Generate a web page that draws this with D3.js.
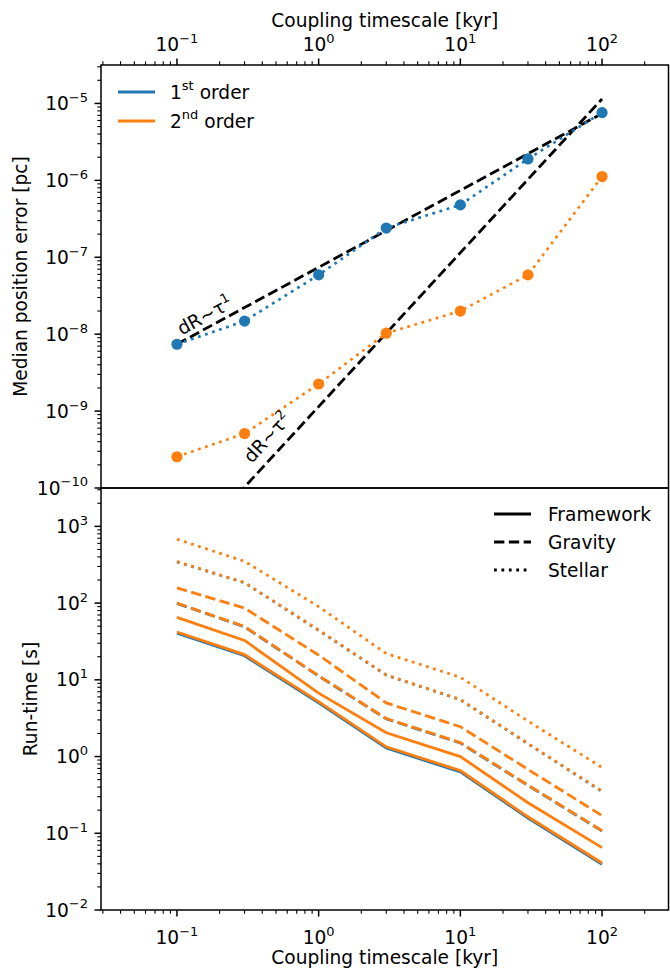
<!DOCTYPE html>
<html>
<head>
<meta charset="utf-8">
<script src="https://cdn.jsdelivr.net/npm/d3@7"></script>
<style>
  html, body { margin: 0; padding: 0; background: #fff; }
  svg { display: block; }
  text { font-family: "DejaVu Sans", sans-serif; fill: #000; }
</style>
</head>
<body>
<svg id="chart" width="670" height="969"></svg>
<script>
// ---------------- data ----------------
const timescales = [0.1, 0.3, 1, 3, 10, 30, 100];            // kyr

// Top panel: median position error [pc]
const errFirst  = [7.4e-9, 1.48e-8, 5.9e-8, 2.4e-7, 4.8e-7, 1.9e-6, 7.6e-6];
const errSecond = [2.55e-10, 5.1e-10, 2.25e-9, 1.03e-8, 2.0e-8, 5.9e-8, 1.12e-6];

// Reference slopes (anchor value at anchor timescale, exponent)
const refLines = [
  { exp: 1, anchorX: 0.1, anchorY: 7.4e-9, label: "dR∼τ", sup: "1", lx: 0.108, ly: 9.6e-9 },
  { exp: 2, anchorX: 3,   anchorY: 1.03e-8, label: "dR∼τ", sup: "2", lx: 0.337, ly: 2.05e-10 }
];

// Bottom panel: run-time [s]
const rtFirstFramework  = [40.5, 20.6, 5.0, 1.29, 0.63, 0.158, 0.0395];
const rtFirstGravity    = [99, 49, 11.2, 3.1, 1.5, 0.42, 0.107];
const rtFirstStellar    = [345, 184, 44, 11.5, 5.5, 1.47, 0.35];
const rtSecondFrameworkA = [42, 21.3, 5.2, 1.34, 0.655, 0.164, 0.041];
const rtSecondGravityA   = [100, 49.5, 11.3, 3.13, 1.52, 0.425, 0.108];
const rtSecondStellarA   = [348, 185, 44.5, 11.6, 5.55, 1.48, 0.355];
const rtSecondFramework  = [65, 32.6, 6.7, 2.04, 1.0, 0.25, 0.065];
const rtSecondGravity    = [158, 86, 21, 5.0, 2.45, 0.68, 0.17];
const rtSecondStellar    = [680, 350, 90, 22, 10.8, 2.9, 0.72];

const xTickExps   = [-1, 0, 1, 2];
const yTopExps    = [-10, -9, -8, -7, -6, -5];
const yBotExps    = [-2, -1, 0, 1, 2, 3];
const orderLabels = [["1", "st", " order"], ["2", "nd", " order"]];
const typeLabels  = ["Framework", "Gravity", "Stellar"];

// ---------------- styles ----------------
const BLUE = "#1f77b4", ORANGE = "#ff7f0e";
const LW = 2.8;
const FS = 18.6;
const DOT = `${LW * 1.0},${LW * 1.65}`;
const DASH = `${LW * 3.7},${LW * 1.6}`;
const styleDash = { Framework: null, Gravity: DASH, Stellar: DOT };

const svg = d3.select("#chart");
const L = 101, R = 668.5;
const topT = 65, mid = 488, botB = 910;

const x = d3.scaleLog().domain([Math.pow(10, -1.536), Math.pow(10, 2.469)]).range([L, R]);
const yTop = d3.scaleLog().domain([1e-10, Math.pow(10, -4.5)]).range([mid, topT]);
const yBot = d3.scaleLog().domain([1e-2, Math.pow(10, 3.5)]).range([botB, mid]);

function powLabel(sel, exp) {
  sel.append("tspan").text("10");
  sel.append("tspan").attr("font-size", "0.7em").attr("dy", "-0.62em")
     .text(exp < 0 ? "−" + Math.abs(exp) : String(exp));
}
function minorVals(scale) {
  const [a, b] = scale.domain();
  const out = [];
  for (let e = Math.floor(Math.log10(a)); e <= Math.ceil(Math.log10(b)); e++) {
    for (let m = 2; m <= 9; m++) {
      const v = m * Math.pow(10, e);
      if (v >= a && v <= b) out.push(v);
    }
  }
  return out;
}

// clip paths
const defs = svg.append("defs");
defs.append("clipPath").attr("id", "clipTop").append("rect")
  .attr("x", L).attr("y", topT).attr("width", R - L).attr("height", mid - topT);
defs.append("clipPath").attr("id", "clipBot").append("rect")
  .attr("x", L).attr("y", mid).attr("width", R - L).attr("height", botB - mid);

// ---------------- top panel ----------------
const gTop = svg.append("g").attr("clip-path", "url(#clipTop)");
const lineTop = d3.line().x((d, i) => x(timescales[i])).y(d => yTop(d));

refLines.forEach(r => {
  const pts = [0.1, 100].map(t => [t, r.anchorY * Math.pow(t / r.anchorX, r.exp)]);
  gTop.append("path")
    .attr("d", d3.line().x(d => x(d[0])).y(d => yTop(d[1]))(pts))
    .attr("fill", "none").attr("stroke", "#000").attr("stroke-width", LW)
    .attr("stroke-dasharray", DASH);
});

[[errFirst, BLUE], [errSecond, ORANGE]].forEach(([vals, col]) => {
  gTop.append("path").attr("d", lineTop(vals)).attr("fill", "none")
    .attr("stroke", col).attr("stroke-width", LW * 0.95).attr("stroke-dasharray", DOT);
  gTop.selectAll(null).data(vals).enter().append("circle")
    .attr("cx", (d, i) => x(timescales[i])).attr("cy", d => yTop(d))
    .attr("r", 5.6).attr("fill", col);
});

// annotations
refLines.forEach(r => {
  const px = x(r.lx), py = yTop(r.ly);
  const dx = x(10) - x(1);
  const dy = (yTop(1e-8) - yTop(1e-9)) * r.exp; // negative (upwards)
  const ang = Math.atan2(dy, dx) * 180 / Math.PI;
  const t = svg.append("text").attr("transform", `translate(${px},${py}) rotate(${ang})`)
    .attr("font-size", FS);
  t.append("tspan").text(r.label);
  t.append("tspan").attr("font-size", "0.7em").attr("dy", "-0.62em").text(r.sup);
});

// legend top
[[BLUE, 0], [ORANGE, 1]].forEach(([col, i]) => {
  const yy = 92 + i * 29;
  svg.append("line").attr("x1", 118).attr("x2", 155).attr("y1", yy).attr("y2", yy)
    .attr("stroke", col).attr("stroke-width", LW);
  const t = svg.append("text").attr("x", 170).attr("y", yy + 6.5).attr("font-size", FS);
  t.append("tspan").text(orderLabels[i][0]);
  t.append("tspan").attr("font-size", "0.7em").attr("dy", "-0.62em").text(orderLabels[i][1]);
  t.append("tspan").attr("dy", (0.62 * 0.7) + "em").text(orderLabels[i][2]);
});

// ---------------- bottom panel ----------------
const gBot = svg.append("g").attr("clip-path", "url(#clipBot)");
const lineBot = d3.line().x((d, i) => x(timescales[i])).y(d => yBot(d));
const botSeries = [
  [rtFirstFramework, BLUE, "Framework"],
  [rtFirstGravity, BLUE, "Gravity"],
  [rtFirstStellar, BLUE, "Stellar"],
  [rtSecondFrameworkA, ORANGE, "Framework"],
  [rtSecondGravityA, ORANGE, "Gravity"],
  [rtSecondStellarA, ORANGE, "Stellar"],
  [rtSecondFramework, ORANGE, "Framework"],
  [rtSecondGravity, ORANGE, "Gravity"],
  [rtSecondStellar, ORANGE, "Stellar"]
];
botSeries.forEach(([vals, col, type]) => {
  const p = gBot.append("path").attr("d", lineBot(vals)).attr("fill", "none")
    .attr("stroke", col).attr("stroke-width", LW);
  if (styleDash[type]) p.attr("stroke-dasharray", styleDash[type]);
});

// legend bottom
typeLabels.forEach((lab, i) => {
  const yy = 514 + i * 28;
  const ln = svg.append("line").attr("x1", 494).attr("x2", 531).attr("y1", yy).attr("y2", yy)
    .attr("stroke", "#000").attr("stroke-width", LW);
  if (styleDash[lab]) ln.attr("stroke-dasharray", styleDash[lab]);
  svg.append("text").attr("x", 548).attr("y", yy + 6.5).attr("font-size", FS).text(lab);
});

// ---------------- axes / spines ----------------
const axG = svg.append("g");
axG.append("rect").attr("x", L).attr("y", topT).attr("width", R - L).attr("height", mid - topT)
  .attr("fill", "none").attr("stroke", "#000").attr("stroke-width", 1.5);
axG.append("rect").attr("x", L).attr("y", mid).attr("width", R - L).attr("height", botB - mid)
  .attr("fill", "none").attr("stroke", "#000").attr("stroke-width", 1.5);

const MAJ = 6.5, MIN = 3.7;
const xMaj = xTickExps.map(e => Math.pow(10, e));
const xMin = minorVals(x);
[[topT, -1], [botB, 1]].forEach(([y0, dir]) => {
  xMaj.forEach(v => axG.append("line").attr("x1", x(v)).attr("x2", x(v))
    .attr("y1", y0).attr("y2", y0 + dir * MAJ).attr("stroke", "#000").attr("stroke-width", 1.5));
  xMin.forEach(v => axG.append("line").attr("x1", x(v)).attr("x2", x(v))
    .attr("y1", y0).attr("y2", y0 + dir * MIN).attr("stroke", "#000").attr("stroke-width", 1.1));
});
xTickExps.forEach(e => {
  const t1 = axG.append("text").attr("x", x(Math.pow(10, e))).attr("y", 51)
    .attr("text-anchor", "middle").attr("font-size", FS);
  powLabel(t1, e);
  const t2 = axG.append("text").attr("x", x(Math.pow(10, e))).attr("y", 944)
    .attr("text-anchor", "middle").attr("font-size", FS);
  powLabel(t2, e);
});

[[yTop, yTopExps], [yBot, yBotExps]].forEach(([ys, exps]) => {
  exps.forEach(e => {
    const v = Math.pow(10, e);
    axG.append("line").attr("x1", L).attr("x2", L - MAJ).attr("y1", ys(v)).attr("y2", ys(v))
      .attr("stroke", "#000").attr("stroke-width", 1.5);
    const t = axG.append("text").attr("x", L - 13).attr("y", ys(v) + 6.5)
      .attr("text-anchor", "end").attr("font-size", FS);
    powLabel(t, e);
  });
  minorVals(ys).forEach(v => axG.append("line").attr("x1", L).attr("x2", L - MIN)
    .attr("y1", ys(v)).attr("y2", ys(v)).attr("stroke", "#000").attr("stroke-width", 1.1));
});

axG.append("text").attr("x", (L + R) / 2).attr("y", 27).attr("text-anchor", "middle")
  .attr("font-size", FS).text("Coupling timescale [kyr]");
axG.append("text").attr("x", (L + R) / 2).attr("y", 964).attr("text-anchor", "middle")
  .attr("font-size", FS).text("Coupling timescale [kyr]");
axG.append("text").attr("transform", `translate(27,${(topT + mid) / 2}) rotate(-90)`)
  .attr("text-anchor", "middle").attr("font-size", FS).text("Median position error [pc]");
axG.append("text").attr("transform", `translate(37,${(mid + botB) / 2}) rotate(-90)`)
  .attr("text-anchor", "middle").attr("font-size", FS).text("Run-time [s]");
</script>
</body>
</html>
